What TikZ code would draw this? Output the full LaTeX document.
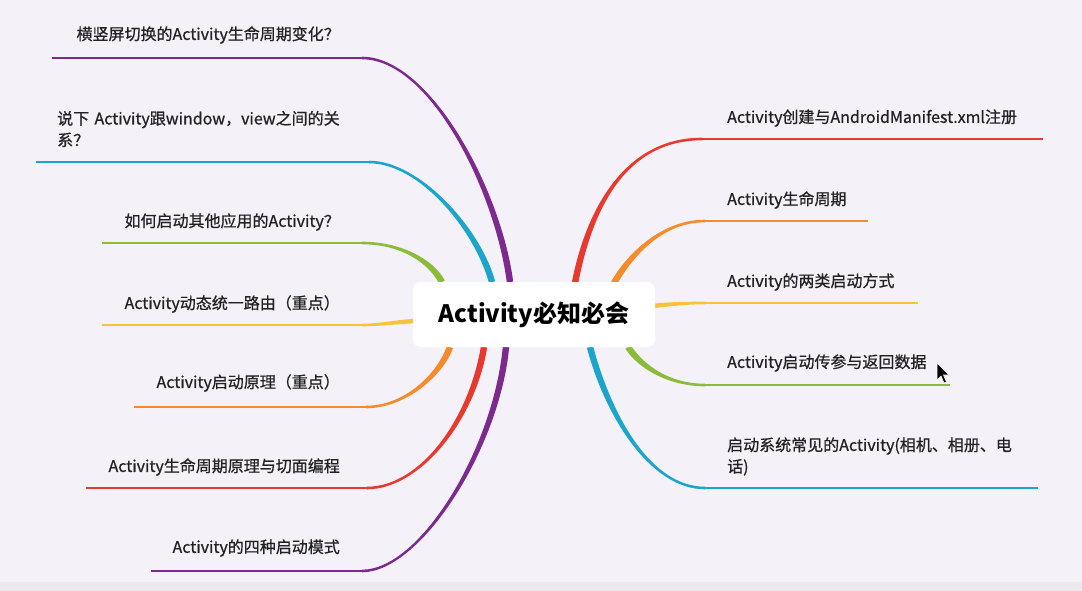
\documentclass[tikz,border=0pt]{standalone}
\usepackage{fontspec}
\setmainfont{Noto Sans CJK SC}
\newfontfamily\labfont{Noto Sans CJK SC}[FakeBold=0.7]
\usetikzlibrary{calc}
\definecolor{bgc}{HTML}{F4F2F8}
\definecolor{cpurple}{HTML}{7D2A8F}
\definecolor{cblue}{HTML}{1CA5CB}
\definecolor{cgreen}{HTML}{8CBB3A}
\definecolor{cyellow}{HTML}{F8C33C}
\definecolor{corange}{HTML}{F68B2C}
\definecolor{cred}{HTML}{E8392F}
\definecolor{ctext}{HTML}{222222}
\def\brA{3.2pt}
\def\brB{1.3pt}
% #1 colour, #2 start, #3 control1, #4 control2, #5 join, #6 end
\newcommand\branch[6]{%
  \fill[#1] ($(#2)!\brA!90:(#3)$) .. controls ($(#3)!\brA!-90:(#2)$) and ($(#4)!\brB!90:(#5)$) .. ($(#5)!\brB!-90:(#4)$)
     -- ($(#5)!\brB!90:(#4)$) .. controls ($(#4)!\brB!-90:(#5)$) and ($(#3)!\brA!90:(#2)$) .. ($(#2)!\brA!-90:(#3)$) -- cycle;
  \draw[#1, line width=2.6pt] (#5) -- (#6);
}
\tikzset{
  lab/.style={inner sep=0pt, text=ctext, font=\labfont\fontsize{16}{21.5}\selectfont},
  labR/.style={lab, anchor=west},
  labL/.style={lab, anchor=east},
  root/.style={fill=white, rounded corners=8pt, minimum width=242pt, minimum height=65pt, inner sep=0pt,
    font=\fontsize{24}{28}\selectfont\bfseries, text=black}
}
\begin{document}
\begin{tikzpicture}[x=1pt, y=-1pt]
\useasboundingbox (0,0) rectangle (1082,591);
\fill[bgc] (0,0) rectangle (1082,591);
\fill[bgc!92!gray] (0,582) rectangle (1082,591);

% ---------- right side ----------
\coordinate (rS1) at (575,283); \coordinate (rC11) at (588,215); \coordinate (rC12) at (622,139); \coordinate (rJ1) at (702,139); \coordinate (rE1) at (1043,139);
\coordinate (rS2) at (614,283); \coordinate (rC21) at (630,255); \coordinate (rC22) at (662,221); \coordinate (rJ2) at (705,221); \coordinate (rE2) at (868,221);
\coordinate (rS3) at (652,306); \coordinate (rC31) at (672,304); \coordinate (rC32) at (686,303); \coordinate (rJ3) at (705,303); \coordinate (rE3) at (918,303);
\coordinate (rS4) at (628,347); \coordinate (rC41) at (642,368); \coordinate (rC42) at (670,385); \coordinate (rJ4) at (705,385); \coordinate (rE4) at (950,385);
\coordinate (rS5) at (590,347); \coordinate (rC51) at (608,415); \coordinate (rC52) at (650,488); \coordinate (rJ5) at (705,488); \coordinate (rE5) at (1038,488);

\branch{cred}{rS1}{rC11}{rC12}{rJ1}{rE1}
\branch{corange}{rS2}{rC21}{rC22}{rJ2}{rE2}
\branch{cgreen}{rS4}{rC41}{rC42}{rJ4}{rE4}
\branch{cblue}{rS5}{rC51}{rC52}{rJ5}{rE5}

% ---------- left side ----------
\coordinate (lS1) at (510,282); \coordinate (lC11) at (498,190); \coordinate (lC12) at (430,58);  \coordinate (lJ1) at (362,58);  \coordinate (lE1) at (52,58);
\coordinate (lS2) at (492,282); \coordinate (lC21) at (478,230); \coordinate (lC22) at (420,162); \coordinate (lJ2) at (369,162); \coordinate (lE2) at (36,162);
\coordinate (lS3) at (442,282); \coordinate (lC31) at (430,260); \coordinate (lC32) at (400,243); \coordinate (lJ3) at (362,243); \coordinate (lE3) at (102,243);
\coordinate (lS4) at (416,321); \coordinate (lC41) at (395,322); \coordinate (lC42) at (380,325); \coordinate (lJ4) at (362,325); \coordinate (lE4) at (102,325);
\coordinate (lS5) at (450,347); \coordinate (lC51) at (440,375); \coordinate (lC52) at (405,407); \coordinate (lJ5) at (366,407); \coordinate (lE5) at (134,407);
\coordinate (lS6) at (484,347); \coordinate (lC61) at (472,420); \coordinate (lC62) at (420,488); \coordinate (lJ6) at (367,488); \coordinate (lE6) at (86,488);
\coordinate (lS7) at (506,347); \coordinate (lC71) at (496,450); \coordinate (lC72) at (420,571); \coordinate (lJ7) at (362,571); \coordinate (lE7) at (151,571);

\branch{cpurple}{lS1}{lC11}{lC12}{lJ1}{lE1}
\branch{cblue}{lS2}{lC21}{lC22}{lJ2}{lE2}
\branch{cgreen}{lS3}{lC31}{lC32}{lJ3}{lE3}
\branch{corange}{lS5}{lC51}{lC52}{lJ5}{lE5}
\branch{cred}{lS6}{lC61}{lC62}{lJ6}{lE6}
\branch{cpurple}{lS7}{lC71}{lC72}{lJ7}{lE7}

% short, almost straight branches: thinner taper
\def\brA{2.2pt}
\branch{cyellow}{rS3}{rC31}{rC32}{rJ3}{rE3}
\branch{cyellow}{lS4}{lC41}{lC42}{lJ4}{lE4}

% ---------- root ----------
\node[root] (root) at (534,314.5) {Activity必知必会};

% ---------- labels right ----------
\node[labR] (r1) at (727,118) {Activity创建与AndroidManifest.xml注册};
\node[labR] (r2) at (727,200) {Activity生命周期};
\node[labR] (r3) at (727,282) {Activity的两类启动方式};
\node[labR] (r4) at (727,363) {Activity启动传参与返回数据};
\node[labR, text width=300pt, align=left] (r5) at (727,456.5) {启动系统常见的Activity(相机、相册、电\\话)};

% ---------- labels left ----------
\node[labL] (l1) at (340,35) {横竖屏切换的Activity生命周期变化？};
\node[lab, anchor=west, text width=285pt, align=left] (l2) at (57,129) {说下 Activity跟window，view之间的关\\系？};
\node[labL] (l3) at (340,222) {如何启动其他应用的Activity？};
\node[labL] (l4) at (340,304) {Activity动态统一路由（重点）};
\node[labL] (l5) at (340,383) {Activity启动原理（重点）};
\node[labL] (l6) at (340,467) {Activity生命周期原理与切面编程};
\node[labL] (l7) at (340,548) {Activity的四种启动模式};

% ---------- mouse pointer ----------
\filldraw[fill=black, draw=white, line width=0.6pt] (937,363) -- (937,380) -- (941,376) -- (944,383) -- (946.5,382) -- (943.5,375) -- (949,375) -- cycle;
\end{tikzpicture}
\end{document}
